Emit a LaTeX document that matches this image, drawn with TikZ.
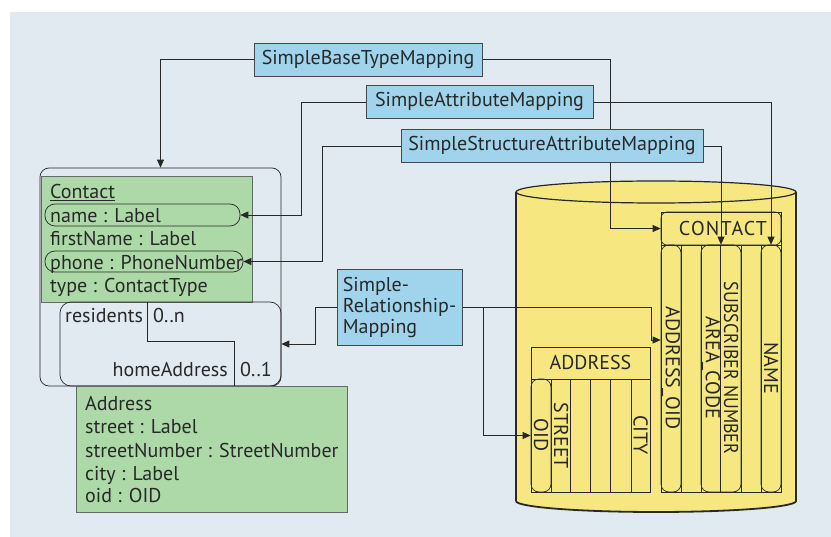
\documentclass[tikz,border=0pt]{standalone}
\usepackage{fontspec}
\setmainfont{PT Sans}
\usetikzlibrary{arrows.meta}
\definecolor{bgc}{RGB}{225,233,241}
\definecolor{mapblue}{RGB}{160,212,236}
\definecolor{umlgreen}{RGB}{173,217,168}
\definecolor{dbyellow}{RGB}{246,231,128}
\definecolor{ink}{RGB}{40,40,40}
\pgfdeclarelayer{bg}
\pgfdeclarelayer{wires}
\pgfsetlayers{bg,wires,main}
\begin{document}
\begin{tikzpicture}[x=1pt,y=-1pt,
  font=\fontsize{20}{23.5}\selectfont,
  mapbox/.style={draw=ink!85, fill=mapblue, line width=0.7pt, inner sep=0pt, minimum height=33pt, text=ink},
  classbox/.style={draw=ink!70, fill=umlgreen, line width=0.7pt, inner sep=0pt},
  attroval/.style={draw=ink, line width=0.7pt, rounded corners=10pt, inner sep=0pt},
  frame/.style={draw=ink, line width=0.7pt, rounded corners=9pt, inner sep=0pt},
  tbl/.style={draw=ink, line width=0.7pt},
  colpill/.style={draw=ink, line width=0.7pt, rounded corners=8pt, inner sep=0pt},
  coltext/.style={rotate=-90, inner sep=0pt, text=ink},
  txt/.style={anchor=base west, inner sep=0pt, text=ink},
  conn/.style={draw=ink, line width=0.75pt},
  tip/.style={-{Triangle[length=8pt,width=7pt]}}]

\useasboundingbox (0,0) rectangle (831,537);

\begin{pgfonlayer}{bg}
% panel
\fill[bgc] (10,12) rectangle (831,537);

% database cylinder
\path[fill=dbyellow] (516,192) -- (516,501) arc[start angle=180, end angle=0, x radius=140, y radius=11] -- (796,192) -- cycle;
\draw[ink, line width=1.2pt] (516,192) -- (516,501);
\draw[ink, line width=1.8pt] (516,501) arc[start angle=180, end angle=0, x radius=140, y radius=11] -- (796,192);
\draw[ink, line width=1.2pt, fill=dbyellow] (656,192) ellipse[x radius=140, y radius=11];

% CONTACT table
\draw[tbl] (661,212) rectangle (781,492);
\draw[tbl] (661,245) -- (781,245);
\foreach \cx in {681,701,720,741,761} \draw[tbl] (\cx,245) -- (\cx,492);
\node[colpill, minimum width=120pt, minimum height=33pt, rounded corners=6pt] (contacthdr) at (721,228.5) {};
\node[colpill, minimum width=20pt, minimum height=247pt] (aoid) at (671,368.5) {};
\node[colpill, minimum width=40pt, minimum height=247pt] (acsn) at (721,368.5) {};
\node[colpill, minimum width=20pt, minimum height=247pt] (ncol) at (771,368.5) {};
\node[inner sep=0pt, text=ink] (contactlbl) at (723,229) {\addfontfeature{LetterSpace=6}CONTACT};
\node[coltext] (aoidlbl) at (671,368) {ADDRESS\_OID};
\node[coltext] (aclbl) at (711,368) {AREA\_CODE};
\node[coltext] (snlbl) at (731,368) {\scalebox{0.9}[1]{SUBSCRIBER NUMBER}};
\node[coltext] (nlbl) at (771,368) {NAME};

% ADDRESS table
\draw[tbl] (531,347) rectangle (650,492);
\node[tbl, minimum width=119pt, minimum height=32pt, inner sep=0pt, text=ink] (addrhdr) at (590.5,363) {ADDRESS};
\foreach \cx in {551,570,590,610,631} \draw[tbl] (\cx,379) -- (\cx,492);
\node[colpill, minimum width=20pt, minimum height=113pt] (oidcol) at (541,435.5) {};
\node[coltext] (oidlbl) at (541,435) {OID};
\node[coltext] (streetlbl) at (561,436) {STREET};
\node[coltext] (citylbl) at (640.5,435) {CITY};

% class Contact with its association
\node[frame, minimum width=241pt, minimum height=218pt] (contactouter) at (160.5,277) {};
\node[classbox, minimum width=211pt, minimum height=126pt] (contactcls) at (146.5,239) {};
\node[txt] (cname) at (50,199) {\underline{Contact}};
\node[attroval, minimum width=195pt, minimum height=22pt] (nameattr) at (142.5,215) {};
\node[txt] (a1) at (50,222.5) {name : Label};
\node[txt] (a2) at (50,246) {firstName : Label};
\node[attroval, minimum width=198pt, minimum height=21pt] (phoneattr) at (144,261.5) {};
\node[txt] (a3) at (50,269.5) {phone : PhoneNumber};
\node[txt] (a4) at (50,293) {type : ContactType};

\node[frame, minimum width=221pt, minimum height=84pt, rounded corners=11pt] (assoc) at (170.5,344) {};
\draw[tbl] (147,302) -- (147,341) -- (234,341) -- (234,386);
\node[txt] (roleres) at (65,323) {residents};
\node[txt] (multn) at (153,323) {0..n};
\node[txt, anchor=base east] (rolehome) at (228,377) {homeAddress};
\node[txt] (mult1) at (240,377) {0..1};

% class Address
\node[classbox, minimum width=271pt, minimum height=126pt] (addresscls) at (211.5,449) {};
\node[txt] (b0) at (85,411) {Address};
\node[txt] (b1) at (85,434) {street : Label};
\node[txt] (b2) at (85,458) {streetNumber : StreetNumber};
\node[txt] (b3) at (85,481) {city : Label};
\node[txt] (b4) at (85,503) {oid : OID};
\end{pgfonlayer}

% mapping boxes
\node[mapbox, minimum width=228pt] (sbtm) at (368,59.5) {SimpleBaseTypeMapping};
\node[mapbox, minimum width=227pt] (sam) at (479.5,102) {SimpleAttributeMapping};
\node[mapbox, minimum width=302pt] (ssam) at (552,146) {SimpleStructureAttributeMapping};
\node[mapbox, minimum width=125pt, minimum height=76pt, align=left,
      font=\fontsize{20}{21}\selectfont] (srm) at (399.5,307.5) {Simple-\\Relationship-\\Mapping};

% connectors
\begin{pgfonlayer}{wires}
\draw[conn,tip] (sbtm.west) -| (contactouter.north);
\draw[conn,tip] (sbtm.east) -| (610,228.5) -- (contacthdr.west);
\draw[conn,tip] (sam.west) -- (301,102) |- (nameattr.east);
\draw[conn,tip] (sam.east) -| (ncol.north);
\draw[conn,tip] (ssam.west) -- (322,146) |- (phoneattr.east);
\draw[conn,tip] (ssam.east) -| (acsn.north);
\draw[conn,tip] (srm.west) -- ++(-21,0) |- (assoc.east);
\draw[conn,tip] (srm.east) -- ++(189,0) |- ([yshift=28.5pt]aoid.west);
\draw[conn,tip] ([xshift=21pt]srm.east) |- (oidcol.west);
\end{pgfonlayer}
\end{tikzpicture}
\end{document}
